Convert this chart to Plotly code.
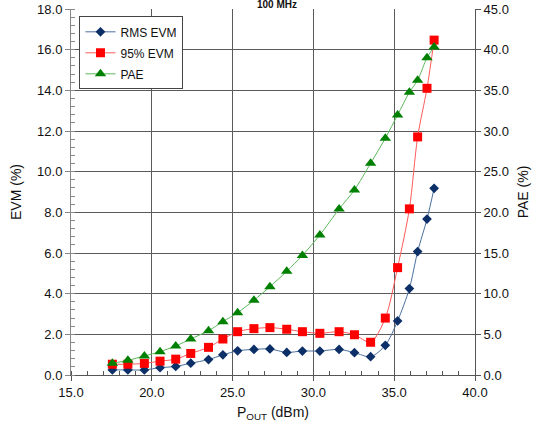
import plotly.graph_objects as go

pout = [17.56, 18.52, 19.54, 20.51, 21.48, 22.41, 23.51, 24.40, 25.31, 26.32, 27.31, 28.35,
        29.32, 30.40, 31.59, 32.54, 33.54, 34.45, 35.21, 35.94, 36.45, 37.03, 37.47]
rms_evm = [0.25, 0.25, 0.25, 0.36, 0.42, 0.58, 0.76, 0.99, 1.19, 1.26, 1.28, 1.11,
           1.18, 1.18, 1.26, 1.10, 0.90, 1.46, 2.66, 4.25, 6.07, 7.67, 9.18]
evm95 = [0.53, 0.53, 0.57, 0.68, 0.78, 1.06, 1.36, 1.77, 2.13, 2.28, 2.33, 2.25,
         2.13, 2.05, 2.13, 1.98, 1.61, 2.80, 5.28, 8.17, 11.71, 14.10, 16.47]
pae = [1.44, 1.80, 2.34, 2.87, 3.57, 4.43, 5.45, 6.55, 7.66, 9.19, 10.86, 12.75,
       14.70, 17.22, 20.41, 22.75, 26.03, 29.11, 31.97, 34.76, 36.24, 39.02, 40.34]

x_ticks = [15, 20, 25, 30, 35, 40]
evm_ticks = [0, 2, 4, 6, 8, 10, 12, 14, 16, 18]
pae_ticks = [0, 5, 10, 15, 20, 25, 30, 35, 40, 45]

FONT = "Liberation Sans, Arial, sans-serif"
GRID = "#5a5a5a"

fig = go.Figure()
fig.add_trace(go.Scatter(
    x=pout, y=rms_evm, name="RMS EVM", mode="lines+markers", legendgroup="a",
    line=dict(color="#4a6f9c", width=1, shape="spline", smoothing=0.8),
    marker=dict(symbol="diamond", size=7.5, color="#0b2f66", line=dict(width=0))))
fig.add_trace(go.Scatter(
    x=pout, y=evm95, name="95% EVM", mode="lines+markers", legendgroup="b",
    line=dict(color="#ff5a5a", width=1, shape="spline", smoothing=0.8),
    marker=dict(symbol="square", size=9, color="#ff0000", line=dict(width=0))))
fig.add_trace(go.Scatter(
    x=pout, y=pae, name="PAE", mode="lines+markers", yaxis="y2", legendgroup="c",
    line=dict(color="#5cb85c", width=1, shape="spline", smoothing=0.8),
    marker=dict(symbol="triangle-up", size=10, color="#008000", line=dict(width=0))))

fig.update_layout(
    width=537, height=428,
    margin=dict(l=71, r=62, t=9, b=53, autoexpand=False),
    paper_bgcolor="white", plot_bgcolor="white",
    font=dict(family=FONT, size=13, color="#111"),
    showlegend=True,
    legend=dict(x=0.021, y=0.98, xanchor="left", yanchor="top",
                bgcolor="white", bordercolor="#444", borderwidth=1,
                tracegroupgap=2, itemwidth=30,
                font=dict(size=12, family=FONT, color="#111")),
    xaxis=dict(range=[15, 40], tickvals=x_ticks, ticktext=[f"{v:.1f}" for v in x_ticks],
               automargin=False,
               showgrid=True, gridcolor=GRID, gridwidth=1, zeroline=False,
               showline=True, linecolor="#555", linewidth=1, mirror=False,
               ticks="outside", ticklen=5, tickcolor="#555",
               minor=dict(dtick=1, ticks="inside", ticklen=4, tickcolor="#555", showgrid=False),
               title=dict(text="P<sub>OUT</sub> (dBm)", font=dict(size=14), standoff=8)),
    yaxis=dict(range=[0, 18], tickvals=evm_ticks, ticktext=[f"{v:.1f}" for v in evm_ticks],
               automargin=False,
               showgrid=True, gridcolor=GRID, gridwidth=1, zeroline=False,
               showline=True, linecolor="#888", linewidth=1,
               ticks="outside", ticklen=5, tickcolor="#888",
               minor=dict(dtick=0.4, ticks="inside", ticklen=4, tickcolor="#888", showgrid=False),
               title=dict(text="EVM (%)", font=dict(size=14), standoff=12)),
    yaxis2=dict(range=[0, 45], tickvals=pae_ticks, ticktext=[f"{v:.1f}" for v in pae_ticks],
                automargin=False,
                overlaying="y", side="right", showgrid=False, zeroline=False,
                showline=True, linecolor="#555", linewidth=1,
                ticks="outside", ticklen=5, tickcolor="#555",
                title=dict(text="PAE (%)", font=dict(size=14), standoff=10)),
    annotations=[dict(text="<b>100 MHz</b>", xref="paper", yref="paper", x=0.51, y=1,
                      xanchor="center", yanchor="bottom", yshift=-3, showarrow=False,
                      font=dict(size=10, family=FONT, color="#111"))],
)

fig.write_html("out.html", config={"displayModeBar": False},
               post_script="document.body.style.margin='0';document.body.style.padding='0';")
